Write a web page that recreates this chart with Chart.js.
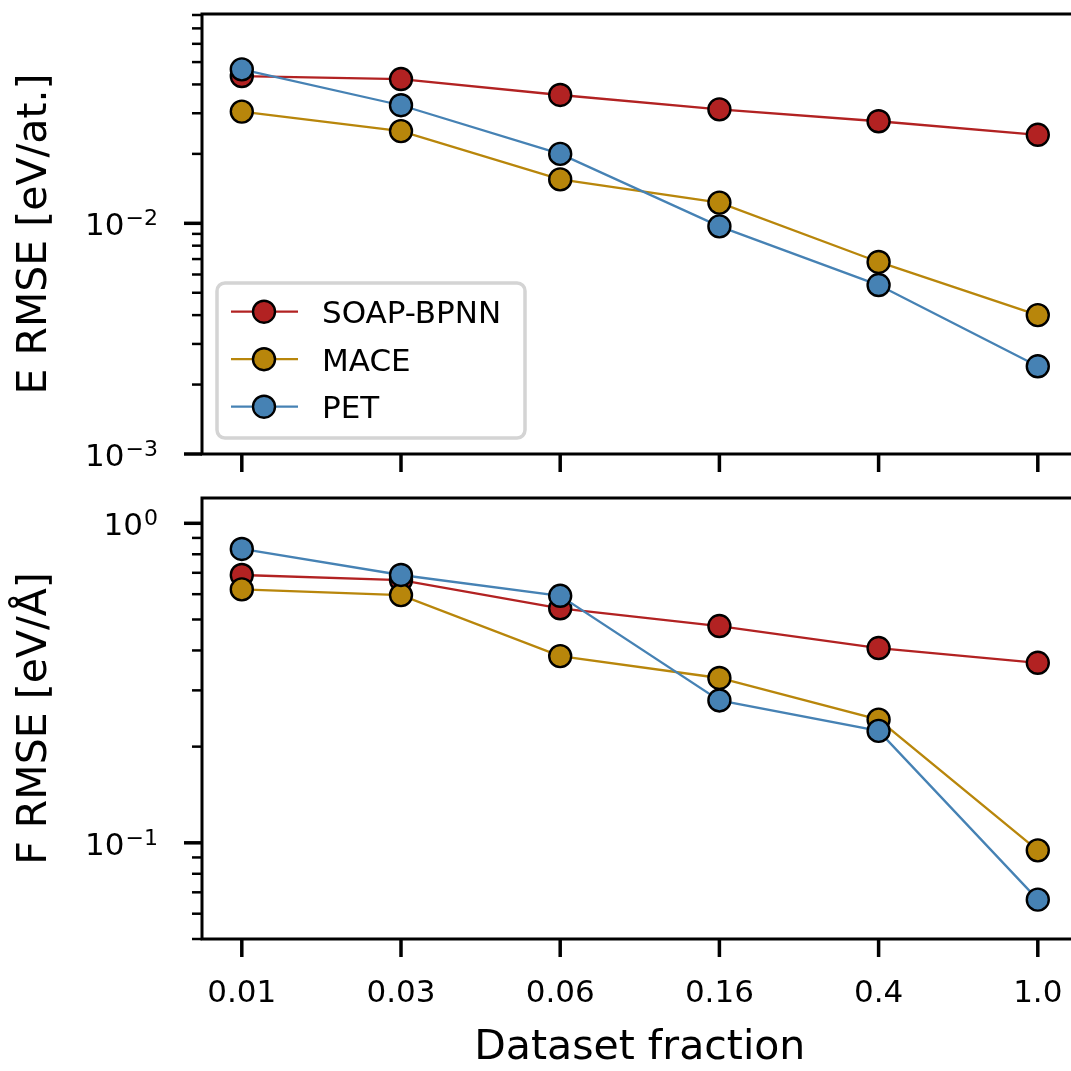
<!DOCTYPE html>
<html>
<head>
<meta charset="utf-8">
<script src="https://cdn.jsdelivr.net/npm/chart.js@4.4.0/dist/chart.umd.min.js"></script>
<style>
  html, body { margin: 0; padding: 0; background: #fff; }
  #wrap { position: relative; width: 1071px; height: 1071px; overflow: hidden; }
  #wrap canvas { position: absolute; left: 0; }
  #topChart { top: 0; }
  #bottomChart { top: 480px; }
</style>
</head>
<body>
<div id="wrap">
  <canvas id="topChart" width="1080" height="480"></canvas>
  <canvas id="bottomChart" width="1080" height="591"></canvas>
</div>
<script>
// 資料
const fractions = ['0.01', '0.03', '0.06', '0.16', '0.4', '1.0'];
const models = ['SOAP-BPNN', 'MACE', 'PET'];
const modelColors = ['#B22222', '#B8860B', '#4682B4'];

// 能量 RMSE [eV/at.]
const energySoap = [0.0435, 0.0422, 0.0360, 0.0312, 0.0277, 0.0242];
const energyMace = [0.0305, 0.0251, 0.0155, 0.0123, 0.0068, 0.0040];
const energyPet  = [0.0465, 0.0325, 0.0200, 0.0097, 0.0054, 0.0024];

// 力 RMSE [eV/Å]
const forceSoap = [0.689, 0.664, 0.542, 0.477, 0.407, 0.366];
const forceMace = [0.621, 0.596, 0.384, 0.328, 0.243, 0.0947];
const forcePet  = [0.831, 0.689, 0.593, 0.279, 0.224, 0.0664];

const energyRange = [0.001, 0.0808];
const forceRange = [0.05, 1.2];

const FONT = '"DejaVu Sans", sans-serif';

// 對數軸刻度 (主刻度 + 次刻度)
function logTicks(min, max) {
    const out = [];
    for (let e = Math.floor(Math.log10(min)); e <= Math.ceil(Math.log10(max)); e++) {
        for (let m = 1; m < 10; m++) {
            const v = m * Math.pow(10, e);
            if (v >= min * 0.999 && v <= max * 1.001) out.push({ value: v, major: m === 1, exp: e });
        }
    }
    return out;
}

function drawPower(ctx, exp, right, py) {
    const base = '10';
    const sup = exp < 0 ? '\u2212' + Math.abs(exp) : String(exp);
    ctx.font = '31px ' + FONT;
    const wb = ctx.measureText(base).width;
    ctx.font = '22px ' + FONT;
    const ws = ctx.measureText(sup).width;
    const x0 = right - wb - ws - 1;
    ctx.fillStyle = '#000';
    ctx.textAlign = 'left';
    ctx.textBaseline = 'alphabetic';
    ctx.font = '31px ' + FONT;
    ctx.fillText(base, x0, py + 12);
    ctx.font = '22px ' + FONT;
    ctx.fillText(sup, x0 + wb + 1, py + 2);
}

// 軸框與刻度
const axesPainter = {
    id: 'axesPainter',
    afterDatasetsDraw(chart) {
        const { ctx, chartArea: a, scales: { x, y } } = chart;
        ctx.save();
        ctx.strokeStyle = '#000';
        ctx.lineWidth = 3.5;
        fractions.forEach((f, i) => {
            const px = x.getPixelForValue(i);
            ctx.beginPath();
            ctx.moveTo(px, a.bottom);
            ctx.lineTo(px, a.bottom + 18);
            ctx.stroke();
        });
        logTicks(y.min, y.max).forEach(t => {
            const py = y.getPixelForValue(t.value);
            ctx.lineWidth = t.major ? 3.5 : 2.5;
            ctx.beginPath();
            ctx.moveTo(a.left, py);
            ctx.lineTo(a.left - (t.major ? 18 : 10), py);
            ctx.stroke();
            if (t.major) drawPower(ctx, t.exp, a.left - 44, py);
        });
        ctx.lineWidth = 3;
        ctx.strokeRect(a.left, a.top, a.right - a.left, a.bottom - a.top);
        ctx.restore();
    }
};

// 圖例
const legendBox = {
    id: 'legendBox',
    afterDraw(chart, args, opts) {
        if (!opts.show) return;
        const { ctx, chartArea: a } = chart;
        const left = a.left + 15, top = a.bottom - 171, w = 308, h = 155;
        ctx.save();
        ctx.fillStyle = 'rgba(255,255,255,0.8)';
        ctx.strokeStyle = '#d4d4d4';
        ctx.lineWidth = 3.5;
        ctx.beginPath();
        ctx.roundRect(left, top, w, h, 8);
        ctx.fill();
        ctx.stroke();
        chart.data.datasets.forEach((ds, i) => {
            const cy = top + 28.7 + i * 47.5;
            ctx.strokeStyle = ds.borderColor;
            ctx.lineWidth = ds.borderWidth;
            ctx.beginPath();
            ctx.moveTo(left + 14, cy);
            ctx.lineTo(left + 81, cy);
            ctx.stroke();
            ctx.beginPath();
            ctx.arc(left + 47, cy, ds.pointRadius, 0, Math.PI * 2);
            ctx.fillStyle = ds.pointBackgroundColor;
            ctx.fill();
            ctx.strokeStyle = '#000';
            ctx.lineWidth = ds.pointBorderWidth;
            ctx.stroke();
            ctx.fillStyle = '#000';
            ctx.font = '31px ' + FONT;
            ctx.textAlign = 'left';
            ctx.textBaseline = 'alphabetic';
            ctx.fillText(ds.label, left + 105, cy + 11.3);
        });
        ctx.restore();
    }
};

function makeDatasets(seriesList) {
    return seriesList.map((values, k) => ({
        label: models[k],
        data: values.map((v, i) => ({ x: i, y: v })),
        borderColor: modelColors[k],
        backgroundColor: modelColors[k],
        pointBackgroundColor: modelColors[k],
        pointBorderColor: '#000',
        pointBorderWidth: 2.4,
        pointRadius: 11,
        borderWidth: 2.3,
        order: 3 - k
    }));
}

function makeChart(canvasId, seriesList, range, yTitle, isBottom) {
    return new Chart(document.getElementById(canvasId), {
        type: 'line',
        data: { datasets: makeDatasets(seriesList) },
        options: {
            responsive: false,
            animation: false,
            layout: {
                autoPadding: false,
                padding: { top: isBottom ? 18 : 14, right: 2.4, left: 0, bottom: 0 }
            },
            plugins: {
                legend: { display: false },
                tooltip: { enabled: false },
                legendBox: { show: !isBottom }
            },
            scales: {
                x: {
                    type: 'linear',
                    min: -0.25,
                    max: 5.25,
                    grid: { display: false, drawTicks: false },
                    border: { display: false },
                    afterBuildTicks: scale => {
                        scale.ticks = fractions.map((f, i) => ({ value: i }));
                    },
                    afterFit: scale => {
                        scale.height = isBottom ? 132 : 26;
                        // 刻度標籤不額外擠壓繪圖區
                        scale.paddingLeft = 0;
                        scale.paddingRight = 0;
                    },
                    ticks: {
                        display: isBottom,
                        autoSkip: false,
                        maxRotation: 0,
                        padding: 36,
                        color: '#000',
                        font: { family: FONT, size: 31 },
                        callback: value => fractions[value] ?? ''
                    },
                    title: {
                        display: isBottom,
                        text: 'Dataset fraction',
                        color: '#000',
                        font: { family: FONT, size: 41, lineHeight: 1.1 },
                        padding: { top: 0, bottom: 0 }
                    }
                },
                y: {
                    type: 'logarithmic',
                    min: range[0],
                    max: range[1],
                    grid: { display: false, drawTicks: false },
                    border: { display: false },
                    ticks: { display: false },
                    afterFit: scale => { scale.width = 202; },
                    title: {
                        display: true,
                        text: yTitle,
                        color: '#000',
                        font: { family: FONT, size: 41 },
                        padding: { top: 11, bottom: 0 }
                    }
                }
            }
        },
        plugins: [axesPainter, legendBox]
    });
}

makeChart('topChart', [energySoap, energyMace, energyPet], energyRange, 'E RMSE [eV/at.]', false);
makeChart('bottomChart', [forceSoap, forceMace, forcePet], forceRange, 'F RMSE [eV/Å]', true);
</script>
</body>
</html>
